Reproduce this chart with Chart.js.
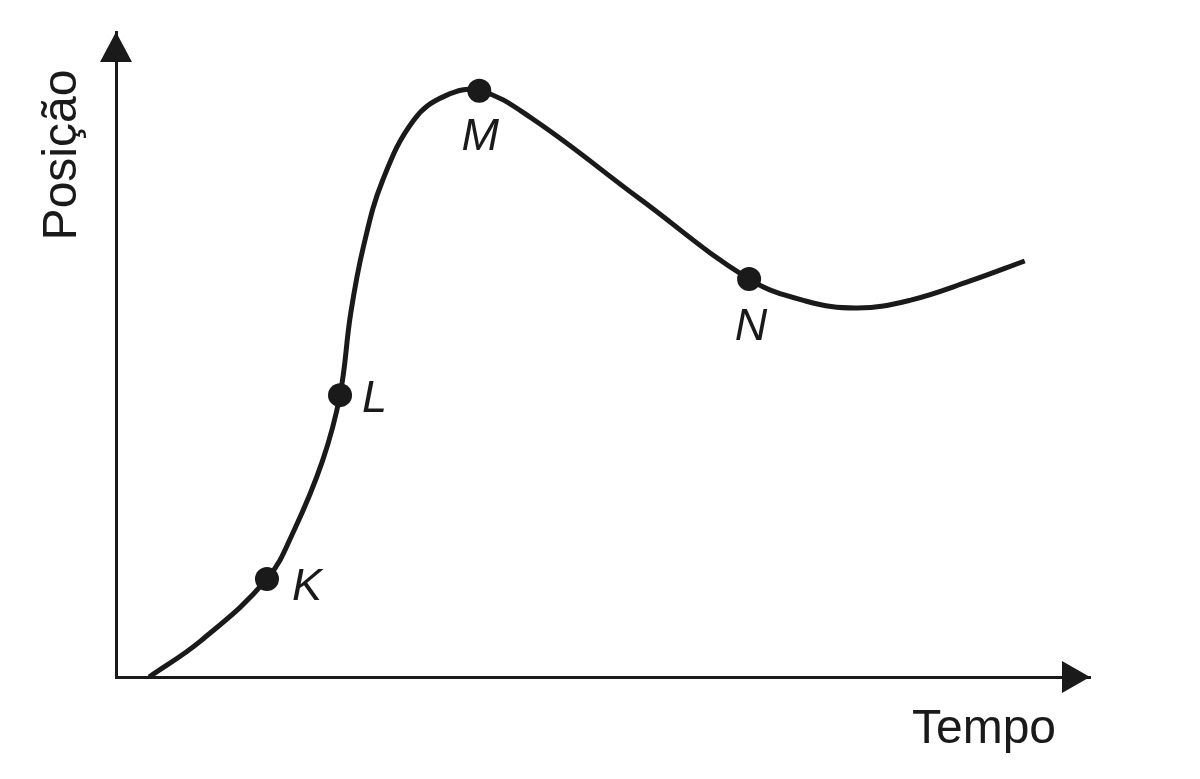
<!DOCTYPE html>
<html>
<head>
<meta charset="utf-8">
<title>Posição x Tempo</title>
<script src="https://cdn.jsdelivr.net/npm/chart.js@4/dist/chart.umd.min.js"></script>
<style>
  html, body { margin: 0; padding: 0; background: #fff; }
  #wrap { width: 1200px; height: 779px; position: relative; }
</style>
</head>
<body>
<div id="wrap"><canvas id="posChart"></canvas></div>
<script>
// curve (time, position) in arbitrary units 0-10
const TEMPO   = [0.34, 0.87, 1.55, 1.83, 2.12, 2.30, 2.41, 2.54, 2.74, 3.06, 3.38, 3.73, 4.26, 5.38, 6.50, 7.08, 7.61, 8.15, 8.77, 9.33];
const POSICAO = [0.00, 0.56, 1.52, 2.28, 3.35, 4.37, 5.64, 6.67, 7.71, 8.64, 9.01, 9.09, 8.67, 7.41, 6.17, 5.83, 5.72, 5.84, 6.14, 6.45];
// marked points: index into the arrays above and their letter
const MARK_INDEX = [2, 5, 11, 14];
const MARK_LABEL = ['K', 'L', 'M', 'N'];
const AXIS_X_TITLE = 'Tempo';
const AXIS_Y_TITLE = 'Posição';

const INK = '#1a1a1a';
const FONT = '"Liberation Sans", Arial, Helvetica, sans-serif';

const points = TEMPO.map((t, i) => ({ x: t, y: POSICAO[i] }));
const radii = TEMPO.map((t, i) => MARK_INDEX.includes(i) ? 12 : 0);

// label offsets relative to each marked point (px)
const labelOffset = {
    K: { dx: 25, dy: 21, align: 'left' },
    L: { dx: 22, dy: 17, align: 'left' },
    M: { dx: 1, dy: 59, align: 'center' },
    N: { dx: 2, dy: 61, align: 'center' }
};

const decorPlugin = {
    id: 'decor',
    afterDatasetsDraw(chart) {
        const ctx = chart.ctx;
        const xs = chart.scales.x, ys = chart.scales.y;
        const x0 = xs.getPixelForValue(0), y0 = ys.getPixelForValue(0);
        const xEnd = xs.getPixelForValue(10), yEnd = ys.getPixelForValue(10);
        ctx.save();
        ctx.fillStyle = INK;
        // arrow heads
        ctx.beginPath();
        ctx.moveTo(x0, yEnd);
        ctx.lineTo(x0 - 16, yEnd + 30);
        ctx.lineTo(x0 + 16, yEnd + 30);
        ctx.closePath();
        ctx.fill();
        ctx.beginPath();
        ctx.moveTo(xEnd, y0);
        ctx.lineTo(xEnd - 28, y0 - 16);
        ctx.lineTo(xEnd - 28, y0 + 16);
        ctx.closePath();
        ctx.fill();

        // point letters
        const meta = chart.getDatasetMeta(0);
        ctx.font = 'italic 45px ' + FONT;
        ctx.textBaseline = 'alphabetic';
        MARK_INDEX.forEach((idx, k) => {
            const el = meta.data[idx];
            const lab = MARK_LABEL[k];
            const off = labelOffset[lab];
            ctx.textAlign = off.align;
            ctx.fillText(lab, el.x + off.dx, el.y + off.dy);
        });

        // axis titles
        ctx.font = '48px ' + FONT;
        ctx.textAlign = 'center';
        ctx.fillText(AXIS_X_TITLE, 984, 743);
        ctx.translate(76, 155);
        ctx.rotate(-Math.PI / 2);
        ctx.fillText(AXIS_Y_TITLE, 0, 0);
        ctx.restore();
    }
};

const ctx = document.getElementById('posChart').getContext('2d');
const chart = new Chart(ctx, {
    type: 'line',
    data: {
        datasets: [{
            data: points,
            borderColor: INK,
            borderWidth: 5,
            backgroundColor: INK,
            pointRadius: radii,
            pointHoverRadius: radii,
            pointBackgroundColor: INK,
            pointBorderWidth: 0,
            tension: 0.4,
            fill: false,
            clip: false
        }]
    },
    options: {
        responsive: true,
        maintainAspectRatio: false,
        animation: false,
        events: [],
        layout: { padding: { left: 108, top: 32, right: 110, bottom: 94 } },
        plugins: {
            legend: { display: false },
            tooltip: { enabled: false }
        },
        scales: {
            x: {
                type: 'linear',
                min: 0,
                max: 10,
                ticks: { display: false },
                grid: { display: false },
                border: { display: true, color: INK, width: 3 }
            },
            y: {
                type: 'linear',
                min: 0,
                max: 10,
                ticks: { display: false },
                grid: { display: false },
                border: { display: true, color: INK, width: 3 }
            }
        }
    },
    plugins: [decorPlugin]
});
</script>
</body>
</html>
